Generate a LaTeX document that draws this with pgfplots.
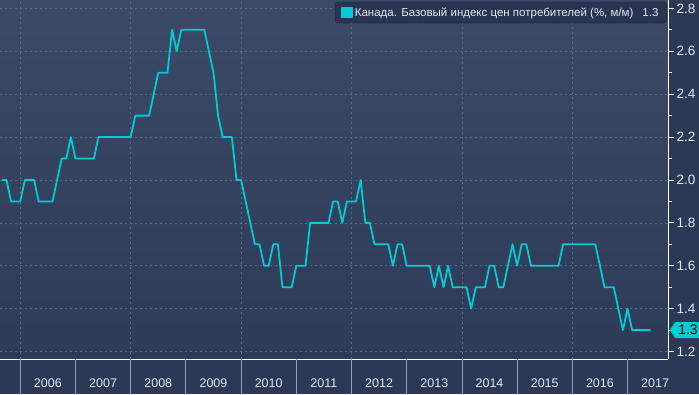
\documentclass[border=0pt]{standalone}
\usepackage{pgfplots}
\pgfplotsset{compat=1.18}
\usepackage{fontspec}
\setmainfont{Liberation Sans}
\usetikzlibrary{shapes.symbols}
\definecolor{bgtop}{RGB}{59,74,102}
\definecolor{bgbot}{RGB}{45,59,88}
\definecolor{outer}{RGB}{44,57,86}
\definecolor{gridc}{RGB}{84,108,134}
\definecolor{linec}{RGB}{0,204,212}
\definecolor{txt}{RGB}{228,232,240}
\definecolor{legbg}{RGB}{40,52,80}
\definecolor{sepc}{RGB}{150,160,178}
\begin{document}
\begin{tikzpicture}
\fill[outer] (0,0) rectangle (699pt,394pt);
\path[use as bounding box] (0,0) rectangle (699pt,394pt);
\begin{axis}[
  at={(0pt,35pt)}, anchor=south west,
  width=668pt, height=359pt, scale only axis,
  xmin=-4.41, xmax=140.8, ymin=1.1655, ymax=2.839,
  clip=false,
  axis background/.style={top color=bgtop, bottom color=bgbot},
  axis x line*=bottom, axis y line*=right,
  axis line style={white, line width=1pt, -},
  ytick={1.2,1.4,1.6,1.8,2.0,2.2,2.4,2.6,2.8},
  minor ytick={1.3,1.5,1.7,1.9,2.1,2.3,2.5,2.7},
  tick align=outside,
  major tick length=6pt, minor tick length=4pt,
  ytick style={white, line width=0.8pt},
  yticklabel style={/pgf/number format/fixed, /pgf/number format/fixed zerofill,
     /pgf/number format/precision=1, font=\fontsize{13.5}{15}\selectfont, text=txt, xshift=-1pt},
  /pgf/number format/assume math mode=true,
  ymajorgrids=true,
  grid style={gridc, dash pattern=on 2pt off 3pt, line width=0.7pt},
  xtick={6,18,30,42,54,66,78,90,102,114,126,138},
  xticklabels={2006,2007,2008,2009,2010,2011,2012,2013,2014,2015,2016,2017},
  xtick style={draw=none},
  xticklabel style={font=\fontsize{12.5}{14}\selectfont, text=txt, yshift=-10pt},
  extra x ticks={0,24,48,72,96,120},
  extra x tick labels={},
  extra x tick style={grid=major, tick style={draw=none}},
  legend style={at={(rel axis cs:0.998,0.995)}, anchor=north east, fill=legbg,
     draw=black!85, rounded corners=3pt, text=txt,
     font=\fontsize{11.5}{13}\selectfont, inner xsep=6pt, inner ysep=3.5pt},
  legend cell align=left,
  legend image code/.code={\fill[linec, sharp corners] (0pt,-5pt) rectangle (10pt,5pt);},
]
\addplot[linec, line width=1.8pt, line join=round] coordinates {
(-4,2.0)(-3,2.0)(-2,1.9)(-1,1.9)(0,1.9)(1,2.0)(2,2.0)(3,2.0)(4,1.9)(5,1.9)
(6,1.9)(7,1.9)(8,2.0)(9,2.1)(10,2.1)(11,2.2)(12,2.1)(13,2.1)(14,2.1)(15,2.1)
(16,2.1)(17,2.2)(18,2.2)(19,2.2)(20,2.2)(21,2.2)(22,2.2)(23,2.2)(24,2.2)(25,2.3)
(26,2.3)(27,2.3)(28,2.3)(29,2.4)(30,2.5)(31,2.5)(32,2.5)(33,2.7)(34,2.6)(35,2.7)
(36,2.7)(37,2.7)(38,2.7)(39,2.7)(40,2.7)(41,2.6)(42,2.5)(43,2.3)(44,2.2)(45,2.2)
(46,2.2)(47,2.0)(48,2.0)(49,1.9)(50,1.8)(51,1.7)(52,1.7)(53,1.6)(54,1.6)(55,1.7)
(56,1.7)(57,1.5)(58,1.5)(59,1.5)(60,1.6)(61,1.6)(62,1.6)(63,1.8)(64,1.8)(65,1.8)
(66,1.8)(67,1.8)(68,1.9)(69,1.9)(70,1.8)(71,1.9)(72,1.9)(73,1.9)(74,2.0)(75,1.8)
(76,1.8)(77,1.7)(78,1.7)(79,1.7)(80,1.7)(81,1.6)(82,1.7)(83,1.7)(84,1.6)(85,1.6)
(86,1.6)(87,1.6)(88,1.6)(89,1.6)(90,1.5)(91,1.6)(92,1.5)(93,1.6)(94,1.5)(95,1.5)
(96,1.5)(97,1.5)(98,1.4)(99,1.5)(100,1.5)(101,1.5)(102,1.6)(103,1.6)(104,1.5)(105,1.5)
(106,1.6)(107,1.7)(108,1.6)(109,1.7)(110,1.7)(111,1.6)(112,1.6)(113,1.6)(114,1.6)(115,1.6)
(116,1.6)(117,1.6)(118,1.7)(119,1.7)(120,1.7)(121,1.7)(122,1.7)(123,1.7)(124,1.7)(125,1.7)
(126,1.6)(127,1.5)(128,1.5)(129,1.5)(130,1.4)(131,1.3)(132,1.4)(133,1.3)(134,1.3)(135,1.3)
(136,1.3)(137,1.3)
};
\addlegendentry{Канада. Базовый индекс цен потребителей (\%, м/м)\hspace{9pt}1.3}
\pgfplotsinvokeforeach{0,12,24,36,48,60,72,84,96,108,120,132}{
  \draw[sepc, line width=0.8pt] (axis cs:#1,1.1655) -- ++(0pt,-35pt);
}
\node[signal, signal to=west, signal pointer angle=110, fill=linec, text=black,
      font=\fontsize{14}{16}\selectfont, inner xsep=3pt, inner ysep=3pt,
      anchor=west] at (axis cs:140.8,1.3) [xshift=1.5pt] {1.3};
\end{axis}
\end{tikzpicture}
\end{document}
